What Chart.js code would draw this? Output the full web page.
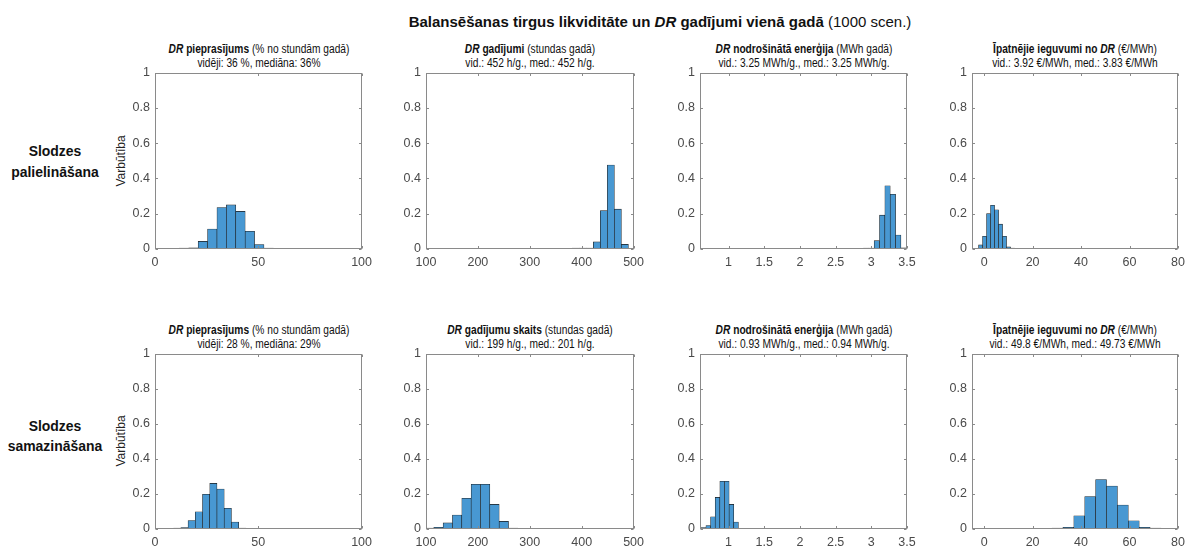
<!DOCTYPE html>
<html><head><meta charset="utf-8">
<script src="https://cdn.jsdelivr.net/npm/chart.js@4.4.1/dist/chart.umd.min.js"></script>
<style>
html,body{margin:0;padding:0;background:#fff;}
body{width:1187px;height:548px;overflow:hidden;position:relative;font-family:"Liberation Sans",Arial,sans-serif;color:#111;}
.txt{position:absolute;white-space:nowrap;line-height:1;}
.main{font-size:15px;font-weight:bold;}
.main .n{font-weight:normal;}
.sub{font-size:12px;}
.row{font-size:15px;font-weight:bold;}
.ylab{font-size:12px;color:#222;}
.wrap{position:absolute;}
</style></head>
<body>
<script>
// ---------------- DATA ----------------
const yTicks = [0, 0.2, 0.4, 0.6, 0.8, 1];
const pctTicks = [0, 50, 100];
const hoursTicks = [100, 200, 300, 400, 500];
const energyTicks = [1, 1.5, 2, 2.5, 3, 3.5];
const benefitTicks = [0, 20, 40, 60, 80];

// Row 1: Slodzes palielināšana
const upDemandEdges = [11.8, 16.35, 20.9, 25.45, 30.0, 34.55, 39.1, 43.65, 48.2, 52.75, 57.3];
const upDemandProb  = [0.002, 0.006, 0.043, 0.113, 0.235, 0.25, 0.213, 0.100, 0.025, 0.004];
const upHoursEdges  = [382, 395.5, 409, 422.5, 436, 449.5, 463, 476.5, 490];
const upHoursProb   = [0.002, 0, 0.003, 0.04, 0.217, 0.476, 0.226, 0.026];
const upEnergyEdges = [2.89, 2.965, 3.04, 3.115, 3.19, 3.265, 3.34, 3.415, 3.49];
const upEnergyProb  = [0.001, 0.002, 0.047, 0.192, 0.358, 0.31, 0.079, 0.006];
const upBenefitEdges = [-2.3, -0.65, 1.0, 2.65, 4.3, 5.95, 7.6, 9.25, 10.9, 12.55];
const upBenefitProb  = [0.023, 0.072, 0.2, 0.248, 0.222, 0.141, 0.072, 0.012, 0.003];

// Row 2: Slodzes samazināšana
const downDemandEdges = [9, 12.5, 16, 19.5, 23, 26.5, 30, 33.5, 37, 40.5, 44];
const downDemandProb  = [0.002, 0.008, 0.048, 0.098, 0.198, 0.26, 0.228, 0.118, 0.04, 0.004];
const downHoursEdges  = [97, 115, 133, 151, 169, 187, 205, 223, 241, 259, 277];
const downHoursProb   = [0.003, 0.01, 0.035, 0.08, 0.175, 0.255, 0.255, 0.14, 0.043, 0.003];
const downEnergyEdges = [0.618, 0.683, 0.748, 0.813, 0.878, 0.943, 1.008, 1.073, 1.138];
const downEnergyProb  = [0.008, 0.02, 0.07, 0.18, 0.272, 0.272, 0.14, 0.04];
const downBenefitEdges = [28, 32.5, 37, 41.5, 46, 50.5, 55, 59.5, 64, 68.5, 73];
const downBenefitProb  = [0.002, 0.01, 0.075, 0.185, 0.282, 0.245, 0.137, 0.047, 0.01, 0.003];

// Texts
const mainTitle = '<b>Balansēšanas tirgus likviditāte un <i>DR</i> gadījumi vienā gadā</b><span class="n"> (1000 scen.)</span>';
const rowLabels = [['Slodzes', 'palielināšana'], ['Slodzes', 'samazināšana']];
const yAxisLabel = 'Varbūtība';

const panels = [
  {row:0, col:0, edges:upDemandEdges, prob:upDemandProb, xr:[0,100], ticks:pctTicks,
   t1:'<b><i>DR</i> pieprasījums</b> (% no stundām gadā)', t2:'vidēji: 36 %, mediāna: 36%'},
  {row:0, col:1, edges:upHoursEdges, prob:upHoursProb, xr:[100,500], ticks:hoursTicks,
   t1:'<b><i>DR</i> gadījumi</b> (stundas gadā)', t2:'vid.: 452 h/g., med.: 452 h/g.'},
  {row:0, col:2, edges:upEnergyEdges, prob:upEnergyProb, xr:[0.6,3.5], ticks:energyTicks,
   t1:'<b><i>DR</i> nodrošinātā enerģija</b> (MWh gadā)', t2:'vid.: 3.25 MWh/g., med.: 3.25 MWh/g.'},
  {row:0, col:3, edges:upBenefitEdges, prob:upBenefitProb, xr:[-5,80], ticks:benefitTicks,
   t1:'<b>Īpatnējie ieguvumi no <i>DR</i></b> (€/MWh)', t2:'vid.: 3.92 €/MWh, med.: 3.83 €/MWh'},
  {row:1, col:0, edges:downDemandEdges, prob:downDemandProb, xr:[0,100], ticks:pctTicks,
   t1:'<b><i>DR</i> pieprasījums</b> (% no stundām gadā)', t2:'vidēji: 28 %, mediāna: 29%'},
  {row:1, col:1, edges:downHoursEdges, prob:downHoursProb, xr:[100,500], ticks:hoursTicks,
   t1:'<b><i>DR</i> gadījumu skaits</b> (stundas gadā)', t2:'vid.: 199 h/g., med.: 201 h/g.'},
  {row:1, col:2, edges:downEnergyEdges, prob:downEnergyProb, xr:[0.6,3.5], ticks:energyTicks,
   t1:'<b><i>DR</i> nodrošinātā enerģija</b> (MWh gadā)', t2:'vid.: 0.93 MWh/g., med.: 0.94 MWh/g.'},
  {row:1, col:3, edges:downBenefitEdges, prob:downBenefitProb, xr:[-5,80], ticks:benefitTicks,
   t1:'<b>Īpatnējie ieguvumi no <i>DR</i></b> (€/MWh)', t2:'vid.: 49.8 €/MWh, med.: 49.73 €/MWh'}
];

// ---------------- LAYOUT ----------------
const L = {
  colLeft:[155, 426, 700, 972], colWidth:[207, 208, 207, 206],
  rowTop:[72, 353], rowHeight:[177, 176],
  title1Off:-23, title2Off:-9, subScale:0.85,
  mainX:660, mainY:21,
  rowLabelX:55, rowLabelY:[[150,171],[425,445]], rowScale:0.93,
  yLabX:121
};
const AXL = 50, AXB = 30, PT = 12, PR = 16;
const BOX = '#8a8a8a', TXT = '#4a4a4a';
const FILL = '#4898d2', EDGE = '#1b1b1b';

function addText(html, x, y, cls, extra) {
  const d = document.createElement('div');
  d.className = 'txt ' + cls;
  d.innerHTML = html;
  d.style.left = x + 'px';
  d.style.top = y + 'px';
  d.style.transform = 'translate(-50%,-50%)' + (extra || '');
  document.body.appendChild(d);
  return d;
}

addText(mainTitle, L.mainX, L.mainY, 'main');
rowLabels.forEach((lines, r) => {
  lines.forEach((s, i) => addText(s, L.rowLabelX, L.rowLabelY[r][i], 'row', ' scaleX(' + L.rowScale + ')'));
  const cy = L.rowTop[r] + L.rowHeight[r] / 2;
  addText(yAxisLabel, L.yLabX, cy, 'ylab', ' rotate(-90deg)');
});

const boxPlugin = {
  id: 'matlabBox',
  afterDatasetsDraw(chart) {
    const {ctx, chartArea:a, scales:{x, y}} = chart;
    ctx.save();
    ctx.strokeStyle = BOX;
    ctx.lineWidth = 1;
    const l = Math.round(a.left) + 0.5, r = Math.round(a.right) - 0.5;
    const t = Math.round(a.top) + 0.5, b = Math.round(a.bottom) - 0.5;
    ctx.strokeRect(l, t, r - l, b - t);
    ctx.beginPath();
    const tl = 2.5;
    x.ticks.forEach(tk => {
      const px = Math.round(x.getPixelForValue(tk.value)) + 0.5;
      ctx.moveTo(px, b); ctx.lineTo(px, b - tl);
      ctx.moveTo(px, t); ctx.lineTo(px, t + tl);
    });
    y.ticks.forEach(tk => {
      const py = Math.round(y.getPixelForValue(tk.value)) + 0.5;
      ctx.moveTo(l, py); ctx.lineTo(l + tl, py);
      ctx.moveTo(r, py); ctx.lineTo(r - tl, py);
    });
    ctx.stroke();
    ctx.restore();
  }
};

panels.forEach(p => {
  const bx = L.colLeft[p.col], by = L.rowTop[p.row];
  const bw = L.colWidth[p.col], bh = L.rowHeight[p.row];
  const cx = bx + bw / 2;
  addText(p.t1, cx, by + L.title1Off, 'sub', ' scaleX(' + L.subScale + ')');
  addText(p.t2, cx, by + L.title2Off, 'sub', ' scaleX(' + L.subScale + ')');

  const wrap = document.createElement('div');
  wrap.className = 'wrap';
  const cv = document.createElement('canvas');
  const W = AXL + bw + PR, H = PT + bh + AXB;
  cv.width = W; cv.height = H;
  cv.style.width = W + 'px'; cv.style.height = H + 'px';
  wrap.appendChild(cv);
  document.body.appendChild(wrap);
  wrap.style.left = (bx - AXL) + 'px';
  wrap.style.top = (by - PT) + 'px';

  const data = p.prob.map((v, i) => ({x: (p.edges[i] + p.edges[i + 1]) / 2, y: v}));
  const tickFont = {family: '"Liberation Sans", Arial, sans-serif', size: 12.5};
  const chart = new Chart(cv, {
    type: 'bar',
    data: {datasets: [{
      data: data,
      backgroundColor: FILL,
      borderColor: EDGE,
      borderWidth: 0.6,
      borderSkipped: false,
      minBarLength: 0.8,
      barPercentage: 1,
      categoryPercentage: 1
    }]},
    options: {
      responsive: false,
      animation: false,
      devicePixelRatio: 1,
      layout: {padding: {top: PT, right: PR, left: 0, bottom: 0}},
      plugins: {legend: {display: false}, tooltip: {enabled: false}, title: {display: false}},
      scales: {
        x: {
          type: 'linear', min: p.xr[0], max: p.xr[1], offset: false,
          grid: {display: false, drawTicks: false},
          border: {display: false},
          afterBuildTicks: s => { s.ticks = p.ticks.map(v => ({value: v})); },
          afterFit: s => { s.height = AXB; },
          ticks: {color: TXT, font: tickFont, padding: 6, maxRotation: 0, autoSkip: false,
                  callback: v => String(v)}
        },
        y: {
          type: 'linear', min: 0, max: 1,
          grid: {display: false, drawTicks: false},
          border: {display: false},
          afterBuildTicks: s => { s.ticks = yTicks.map(v => ({value: v})); },
          afterFit: s => { s.width = AXL; },
          ticks: {color: TXT, font: tickFont, padding: 5, callback: v => String(v)}
        }
      }
    },
    plugins: [boxPlugin]
  });
  const a = chart.chartArea;
  wrap.style.left = (bx - a.left) + 'px';
  wrap.style.top = (by - a.top) + 'px';
});
</script>
</body></html>
